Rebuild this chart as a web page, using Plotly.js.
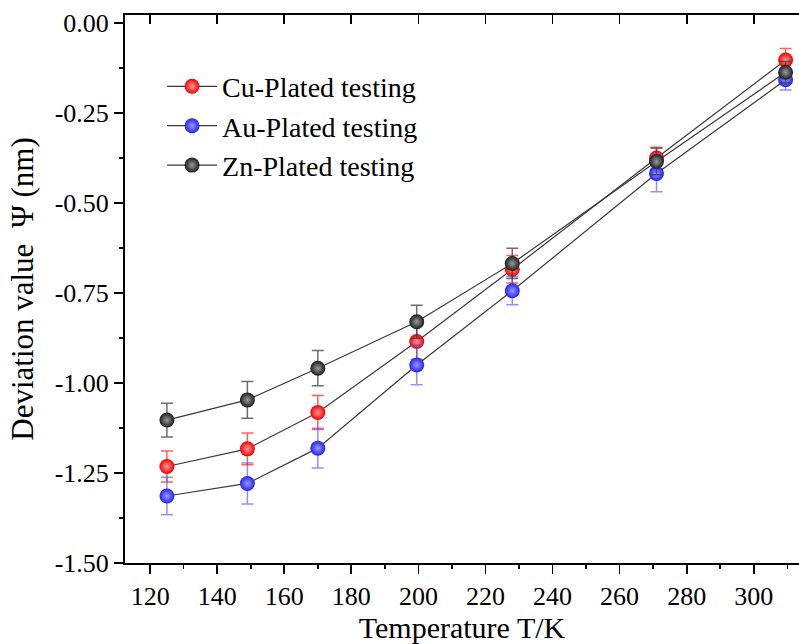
<!DOCTYPE html>
<html>
<head>
<meta charset="utf-8">
<script src="https://cdn.plot.ly/plotly-3.0.1.min.js"></script>
<style>html,body{margin:0;padding:0;background:#fff;}#chart{width:799px;height:644px;}</style>
</head>
<body>
<div id="chart"></div>
<script>
const temperature = [125, 149, 170, 199.5, 228, 271, 309.5];

const cuValues = [-1.232, -1.183, -1.082, -0.885, -0.684, -0.375, -0.103];
const cuErrors = [0.043, 0.044, 0.047, 0.049, 0.038, 0.030, 0.032];

const auValues = [-1.314, -1.279, -1.181, -0.950, -0.744, -0.418, -0.158];
const auErrors = [0.052, 0.057, 0.055, 0.055, 0.039, 0.051, 0.028];

const znValues = [-1.103, -1.047, -0.959, -0.830, -0.668, -0.385, -0.137];
const znErrors = [0.047, 0.051, 0.049, 0.046, 0.042, 0.037, 0.030];

const seriesNames = ['Cu-Plated testing', 'Au-Plated testing', 'Zn-Plated testing'];

const yTickVals = [-1.5, -1.25, -1.0, -0.75, -0.5, -0.25, 0.0];
const yTickText = ['-1.50', '-1.25', '-1.00', '-0.75', '-0.50', '-0.25', '0.00'];
const yMinorVals = [-1.375, -1.125, -0.875, -0.625, -0.375, -0.125];
const xTickVals = [120, 140, 160, 180, 200, 220, 240, 260, 280, 300];
const xTickText = ['120', '140', '160', '180', '200', '220', '240', '260', '280', '300'];
const xMinorVals = [130, 150, 170, 190, 210, 230, 250, 270, 290, 310];

const FONT = 'Liberation Serif';

function makeTrace(name, y, err, col, grad, errCol) {
  return {
    type: 'scatter', mode: 'lines+markers', name: name,
    x: temperature, y: y,
    line: {color: '#3a3a3a', width: 1.2},
    marker: {size: 15, color: col, line: {width: 0},
             gradient: {type: 'radial', color: grad}},
    error_y: {type: 'data', array: err, visible: true, color: errCol, thickness: 1.5, width: 6},
    hoverinfo: 'skip'
  };
}

const data = [
  makeTrace(seriesNames[0], cuValues, cuErrors, '#f00000', '#ff9a9a', 'rgba(255,40,40,0.75)'),
  makeTrace(seriesNames[1], auValues, auErrors, '#2222f0', '#9a9aff', 'rgba(70,70,255,0.6)'),
  makeTrace(seriesNames[2], znValues, znErrors, '#1c1c1c', '#9a9a9a', 'rgba(60,60,60,0.75)'),
  {type: 'scatter', mode: 'markers', x: temperature, y: znValues, xaxis: 'x2', yaxis: 'y2',
   marker: {opacity: 0}, showlegend: false, hoverinfo: 'skip'},
  {type: 'scatter', mode: 'markers', x: temperature, y: znValues, xaxis: 'x3', yaxis: 'y',
   marker: {opacity: 0}, showlegend: false, hoverinfo: 'skip'}
];

const axBase = {showgrid: false, zeroline: false, autorange: false, tickcolor: '#000'};

const layout = {
  width: 799, height: 644,
  margin: {l: 125, r: 0, t: 15, b: 81},
  paper_bgcolor: '#fff', plot_bgcolor: '#fff',
  font: {family: FONT, color: '#000', size: 25},
  showlegend: true,
  legend: {x: 0.055, y: 0.915, xanchor: 'left', yanchor: 'top',
           font: {family: FONT, size: 28, color: '#000'}, itemwidth: 50,
           bgcolor: 'rgba(0,0,0,0)', borderwidth: 0, tracegroupgap: 0},
  xaxis: Object.assign({}, axBase, {
    range: [112.5, 313.5],
    tickmode: 'array', tickvals: xTickVals, ticktext: xTickText,
    ticks: 'outside', ticklen: 9, tickwidth: 1.8,
    showline: true, linecolor: '#000', linewidth: 2,
    tickfont: {family: FONT, size: 26, color: '#000'},
    title: {text: 'Temperature T/K', font: {family: FONT, size: 30, color: '#000'}, standoff: 2},
    automargin: false
  }),
  xaxis2: Object.assign({}, axBase, {
    overlaying: 'x', side: 'bottom', anchor: 'y2',
    range: [112.5, 313.5],
    tickmode: 'array', tickvals: xMinorVals, showticklabels: false,
    ticks: 'outside', ticklen: 5, tickwidth: 1.5,
    showline: false
  }),
  yaxis2: Object.assign({}, axBase, {
    overlaying: 'y', side: 'left', anchor: 'x2',
    range: [-1.5, 0.022],
    tickmode: 'array', tickvals: yMinorVals, showticklabels: false,
    ticks: 'outside', ticklen: 5, tickwidth: 1.5,
    showline: false
  }),
  xaxis3: Object.assign({}, axBase, {
    overlaying: 'x', side: 'top', anchor: 'y',
    range: [112.5, 313.5],
    tickmode: 'array', tickvals: xTickVals, showticklabels: false,
    ticks: 'inside', ticklen: 9, tickwidth: 1.8,
    showline: true, linecolor: '#000', linewidth: 2
  }),
  yaxis: Object.assign({}, axBase, {
    range: [-1.5, 0.022],
    tickmode: 'array', tickvals: yTickVals, ticktext: yTickText,
    ticks: 'outside', ticklen: 9, tickwidth: 1.8,
    showline: true, linecolor: '#000', linewidth: 2,
    tickfont: {family: FONT, size: 26, color: '#000'},
    title: {text: 'Deviation value  \u03A8 (nm)', font: {family: FONT, size: 31, color: '#000'}, standoff: 12},
    automargin: false
  })
};

Plotly.newPlot('chart', data, layout, {displayModeBar: false, staticPlot: true});
</script>
</body>
</html>
